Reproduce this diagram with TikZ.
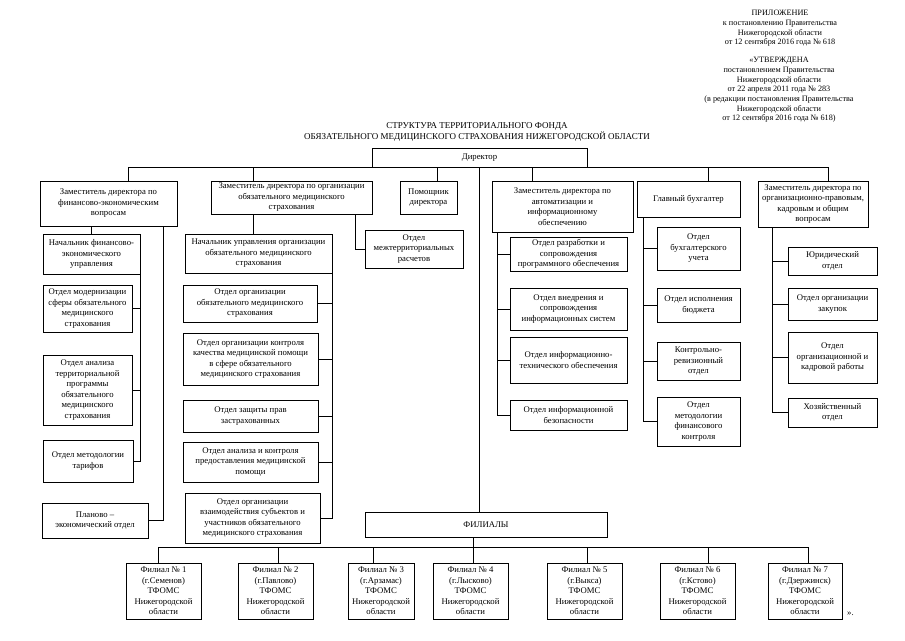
\documentclass[tikz,border=0pt]{standalone}
\usepackage{fontspec}
\setmainfont{Liberation Serif}
\newcommand\fsz{\fontsize{8.7}{10.5}\selectfont}
\newcommand\obox[6]{\node[bx,minimum width={#4-#2},minimum height={#5-#3}] (#1) at (#2,#3) {#6};}
\tikzset{
  bx/.style={draw,line width=0.75pt,fill=white,align=center,inner sep=1pt,outer sep=0pt,anchor=north west,font=\fsz},
  hdr/.style={anchor=north,align=center,inner sep=0pt,font=\fontsize{8.2}{9.7}\selectfont},
  ln/.style={line width=0.6pt}
}
\begin{document}
\begin{tikzpicture}[x=1pt,y=-1pt]
\fill[white] (0,0) rectangle (905,640);
\useasboundingbox (0,0) rectangle (905,640);
% header
\node[hdr] (h1) at (780,10) {ПРИЛОЖЕНИЕ\\к постановлению Правительства\\Нижегородской области\\от 12 сентября 2016 года № 618};
\node[hdr] (h2) at (779,57) {«УТВЕРЖДЕНА\\постановлением Правительства\\Нижегородской области\\от 22 апреля 2011 года № 283\\(в редакции постановления Правительства\\Нижегородской области\\от 12 сентября 2016 года № 618)};
\node[align=center,inner sep=0pt,font=\fontsize{9}{11}\selectfont] (title) at (477,132) {СТРУКТУРА ТЕРРИТОРИАЛЬНОГО ФОНДА\\ОБЯЗАТЕЛЬНОГО МЕДИЦИНСКОГО СТРАХОВАНИЯ НИЖЕГОРОДСКОЙ ОБЛАСТИ};
% top bus
\coordinate (t1) at (128,167);
\coordinate (t2) at (253,167);
\coordinate (t3) at (437,167);
\coordinate (tc) at (479,167);
\coordinate (t4) at (532,167);
\coordinate (t5) at (708,167);
\coordinate (t6) at (828,167);
\draw[ln] (t1) -- (t6);
\obox{dir}{372}{148}{587}{167}{Директор}
% column heads
\obox{a1}{40}{181}{177}{226}{Заместитель директора по\\финансово-экономическим\\вопросам}
\obox{b1}{211}{181}{372}{214}{Заместитель директора по организации\\обязательного медицинского\\страхования}
\obox{c1}{400}{181}{457}{214}{Помощник\\директора}
\obox{d1}{492}{181}{633}{232}{Заместитель директора по\\автоматизации и\\информационному\\обеспечению}
\obox{e1}{637}{181}{740}{217}{Главный бухгалтер}
\obox{f1}{758}{181}{868}{227}{Заместитель директора по\\организационно-правовым,\\кадровым и общим\\вопросам}
\foreach \t/\b in {t1/a1,t2/b1,t3/c1,t4/d1,t5/e1,t6/f1}{\draw[ln] (\t) -- (\t |- \b.north);}
% column 1
\obox{a2}{43}{234}{140}{274}{Начальник финансово-\\экономического\\управления}
\obox{a3}{43}{285}{132}{332}{Отдел модернизации\\сферы обязательного\\медицинского\\страхования}
\obox{a4}{43}{355}{132}{425}{Отдел анализа\\территориальной\\программы\\обязательного\\медицинского\\страхования}
\obox{a5}{43}{440}{133}{482}{Отдел методологии\\тарифов}
\obox{a6}{42}{503}{148}{538}{Планово –\\экономический отдел}
\draw[ln] (a2.north) -- (a2.north |- a1.south);
\draw[ln] (a2.south east) |- (a5.east);
\foreach \n in {a3,a4}{\draw[ln] (a2.south east |- \n.east) -- (\n.east);}
\draw[ln] ([xshift=-14pt]a1.south east) |- (a6.east);
% column 2
\obox{b2}{185}{234}{332}{273}{Начальник управления организации\\обязательного медицинского\\страхования}
\obox{b3}{365}{230}{463}{268}{Отдел\\межтерриториальных\\расчетов}
\obox{b4}{183}{285}{317}{322}{Отдел организации\\обязательного медицинского\\страхования}
\obox{b5}{183}{333}{318}{385}{Отдел организации контроля\\качества медицинской помощи\\в сфере обязательного\\медицинского страхования}
\obox{b6}{183}{400}{318}{432}{Отдел защиты прав\\застрахованных}
\obox{b7}{183}{442}{318}{482}{Отдел анализа и контроля\\предоставления медицинской\\помощи}
\obox{b8}{185}{493}{320}{543}{Отдел организации\\взаимодействия субъектов и\\участников обязательного\\медицинского страхования}
\draw[ln] (t2 |- b1.south) -- (t2 |- b2.north);
\draw[ln] ([xshift=-17pt]b1.south east) |- (b3.west);
\draw[ln] (b2.south east) |- (b8.east);
\foreach \n in {b4,b5,b6,b7}{\draw[ln] (b2.south east |- \n.east) -- (\n.east);}
% column 4
\obox{d2}{510}{237}{627}{271}{Отдел разработки и\\сопровождения\\программного обеспечения}
\obox{d3}{510}{288}{627}{330}{Отдел внедрения и\\сопровождения\\информационных систем}
\obox{d4}{510}{337}{627}{383}{Отдел информационно-\\технического обеспечения}
\obox{d5}{510}{400}{627}{430}{Отдел информационной\\безопасности}
\coordinate (d1t) at ([xshift=5pt]d1.south west);
\draw[ln] (d1t) |- (d5.west);
\foreach \n in {d2,d3,d4}{\draw[ln] (d1t |- \n.west) -- (\n.west);}
% column 5
\obox{e2}{657}{227}{740}{270}{Отдел\\бухгалтерского\\учета}
\obox{e3}{657}{288}{740}{322}{Отдел исполнения\\бюджета}
\obox{e4}{657}{342}{740}{380}{Контрольно-\\ревизионный\\отдел}
\obox{e5}{657}{397}{740}{446}{Отдел\\методологии\\финансового\\контроля}
\coordinate (e1t) at ([xshift=6pt]e1.south west);
\draw[ln] (e1t) |- (e5.west);
\foreach \n in {e2,e3,e4}{\draw[ln] (e1t |- \n.west) -- (\n.west);}
% column 6
\obox{f2}{788}{247}{877}{275}{Юридический\\отдел}
\obox{f3}{788}{288}{877}{320}{Отдел организации\\закупок}
\obox{f4}{788}{332}{877}{383}{Отдел\\организационной и\\кадровой работы}
\obox{f5}{788}{398}{877}{427}{Хозяйственный\\отдел}
\coordinate (f1t) at ([xshift=14pt]f1.south west);
\draw[ln] (f1t) |- (f5.west);
\foreach \n in {f2,f3,f4}{\draw[ln] (f1t |- \n.west) -- (\n.west);}
% branches
\obox{fil}{365}{512}{607}{537}{ФИЛИАЛЫ}
\draw[ln] (tc) -- (tc |- fil.north);
\obox{p1}{126}{563}{201}{619}{Филиал № 1\\(г.Семенов)\\ТФОМС\\Нижегородской\\области}
\obox{p2}{238}{563}{313}{619}{Филиал № 2\\(г.Павлово)\\ТФОМС\\Нижегородской\\области}
\obox{p3}{348}{563}{414}{619}{Филиал № 3\\(г.Арзамас)\\ТФОМС\\Нижегородской\\области}
\obox{p4}{433}{563}{508}{619}{Филиал № 4\\(г.Лысково)\\ТФОМС\\Нижегородской\\области}
\obox{p5}{547}{563}{622}{619}{Филиал № 5\\(г.Выкса)\\ТФОМС\\Нижегородской\\области}
\obox{p6}{660}{563}{735}{619}{Филиал № 6\\(г.Кстово)\\ТФОМС\\Нижегородской\\области}
\obox{p7}{768}{563}{842}{619}{Филиал № 7\\(г.Дзержинск)\\ТФОМС\\Нижегородской\\области}
\coordinate (q1) at (158,547);
\coordinate (q2) at (278,547);
\coordinate (q3) at (373,547);
\coordinate (q4) at (473,547);
\coordinate (q5) at (587,547);
\coordinate (q6) at (708,547);
\coordinate (q7) at (808,547);
\draw[ln] (q1) -- (q7);
\draw[ln] (q4 |- fil.south) -- (q4);
\foreach \i in {1,...,7}{\draw[ln] (q\i) -- (q\i |- p\i.north);}
\node[anchor=west,inner sep=0pt,font=\fsz] (end) at (847,614) {».};
\end{tikzpicture}
\end{document}
